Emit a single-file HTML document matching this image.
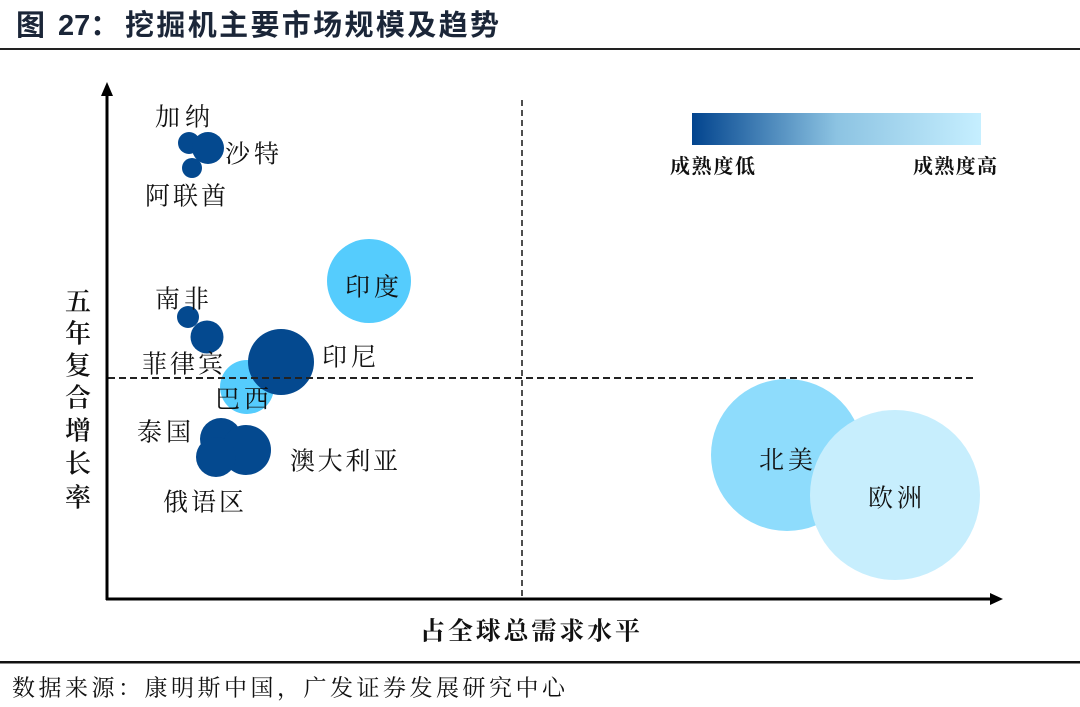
<!DOCTYPE html>
<html>
<head>
<meta charset="utf-8">
<style>
  html,body{margin:0;padding:0;background:#fff;}
  body{width:1080px;height:707px;overflow:hidden;}
  svg{display:block;}
  .lbl{font-family:"Liberation Serif","Noto Serif CJK SC",serif;font-size:25px;fill:#111;}
  .ttl{font-family:"Liberation Sans","Noto Sans CJK SC",sans-serif;font-size:29px;font-weight:bold;fill:#1b2638;}
</style>
</head>
<body>
<svg width="1080" height="707" viewBox="0 0 1080 707" xmlns="http://www.w3.org/2000/svg">
  <defs>
    <linearGradient id="g" x1="0" y1="0" x2="1" y2="0">
      <stop offset="0" stop-color="#02448e"/>
      <stop offset="0.5" stop-color="#8cc3e2"/>
      <stop offset="1" stop-color="#c6efff"/>
    </linearGradient>
  </defs>

  <!-- Title -->
  <text class="ttl" x="16" y="26" dominant-baseline="central">图</text>
  <text class="ttl" x="58" y="26" dominant-baseline="central">27：</text>
  <text class="ttl" x="125" y="26" dominant-baseline="central" textLength="374" lengthAdjust="spacing">挖掘机主要市场规模及趋势</text>
  <rect x="0" y="48" width="1080" height="2" fill="#222"/>

  <!-- Legend -->
  <rect x="692" y="113" width="289" height="32" fill="url(#g)"/>
  <text class="lbl" x="670" y="167" dominant-baseline="central" style="font-size:20px;font-weight:bold" textLength="85" lengthAdjust="spacing">成熟度低</text>
  <text class="lbl" x="913" y="167" dominant-baseline="central" style="font-size:20px;font-weight:bold" textLength="84" lengthAdjust="spacing">成熟度高</text>

  <!-- Bubbles -->
  <circle cx="787" cy="455" r="76" fill="#8edcfc"/>
  <circle cx="895" cy="495" r="85" fill="#c7eefd"/>
  <circle cx="369" cy="281" r="42" fill="#55ccfd"/>
  <circle cx="247" cy="387" r="27" fill="#55ccfd"/>
  <circle cx="281" cy="362" r="33" fill="#04498f"/>

  <circle cx="189" cy="143" r="11" fill="#04498f"/>
  <circle cx="208" cy="148" r="16" fill="#04498f"/>
  <circle cx="192" cy="168" r="10" fill="#04498f"/>

  <circle cx="188" cy="317" r="11" fill="#04498f"/>
  <circle cx="207" cy="337" r="16.5" fill="#04498f"/>

  <circle cx="221" cy="439" r="21" fill="#04498f"/>
  <circle cx="246" cy="450" r="25" fill="#04498f"/>
  <circle cx="216" cy="457" r="20" fill="#04498f"/>

  <!-- Dashed lines -->
  <line x1="522" y1="100" x2="522" y2="598" stroke="#222" stroke-width="1.6" stroke-dasharray="6,4"/>
  <line x1="108" y1="378" x2="976" y2="378" stroke="#222" stroke-width="2" stroke-dasharray="7,4"/>

  <!-- Axes -->
  <line x1="107" y1="92" x2="107" y2="600" stroke="#000" stroke-width="3"/>
  <polygon points="107,82 101,96 113,96" fill="#000"/>
  <line x1="106" y1="599" x2="994" y2="599" stroke="#000" stroke-width="3"/>
  <polygon points="1003,599 990,593 990,605" fill="#000"/>

  <!-- Bubble labels -->
  <text class="lbl" x="155" y="118" dominant-baseline="central" textLength="55" lengthAdjust="spacing">加纳</text>
  <text class="lbl" x="225" y="155" dominant-baseline="central" textLength="54" lengthAdjust="spacing">沙特</text>
  <text class="lbl" x="145" y="197" dominant-baseline="central" textLength="81" lengthAdjust="spacing">阿联酋</text>
  <text class="lbl" x="345" y="288" dominant-baseline="central" textLength="54" lengthAdjust="spacing">印度</text>
  <text class="lbl" x="155" y="300" dominant-baseline="central" textLength="54" lengthAdjust="spacing">南非</text>
  <text class="lbl" x="142" y="365" dominant-baseline="central" textLength="81" lengthAdjust="spacing">菲律宾</text>
  <text class="lbl" x="322" y="358" dominant-baseline="central" textLength="54" lengthAdjust="spacing">印尼</text>
  <text class="lbl" x="215" y="400" dominant-baseline="central" textLength="54" lengthAdjust="spacing">巴西</text>
  <text class="lbl" x="137" y="433" dominant-baseline="central" textLength="54" lengthAdjust="spacing">泰国</text>
  <text class="lbl" x="290" y="462" dominant-baseline="central" textLength="108" lengthAdjust="spacing">澳大利亚</text>
  <text class="lbl" x="163" y="503" dominant-baseline="central" textLength="81" lengthAdjust="spacing">俄语区</text>
  <text class="lbl" x="759" y="461" dominant-baseline="central" textLength="54" lengthAdjust="spacing">北美</text>
  <text class="lbl" x="868" y="499" dominant-baseline="central" textLength="54" lengthAdjust="spacing">欧洲</text>

  <!-- Y axis label -->
  <g class="lbl" style="font-size:26px;font-weight:600" text-anchor="middle">
    <text x="78" y="302" dominant-baseline="central">五</text>
    <text x="78" y="334" dominant-baseline="central">年</text>
    <text x="78" y="366" dominant-baseline="central">复</text>
    <text x="78" y="398" dominant-baseline="central">合</text>
    <text x="78" y="431" dominant-baseline="central">增</text>
    <text x="78" y="464" dominant-baseline="central">长</text>
    <text x="78" y="498" dominant-baseline="central">率</text>
  </g>

  <!-- X axis label -->
  <text class="lbl" x="420" y="632" dominant-baseline="central" style="font-size:25px;font-weight:bold" textLength="220" lengthAdjust="spacing">占全球总需求水平</text>

  <!-- Bottom line & source -->
  <rect x="0" y="661" width="1080" height="2.5" fill="#111"/>
  <text class="lbl" x="12" y="688" dominant-baseline="central" style="font-size:23px" textLength="553" lengthAdjust="spacing">数据来源：康明斯中国，广发证券发展研究中心</text>
</svg>
</body>
</html>
